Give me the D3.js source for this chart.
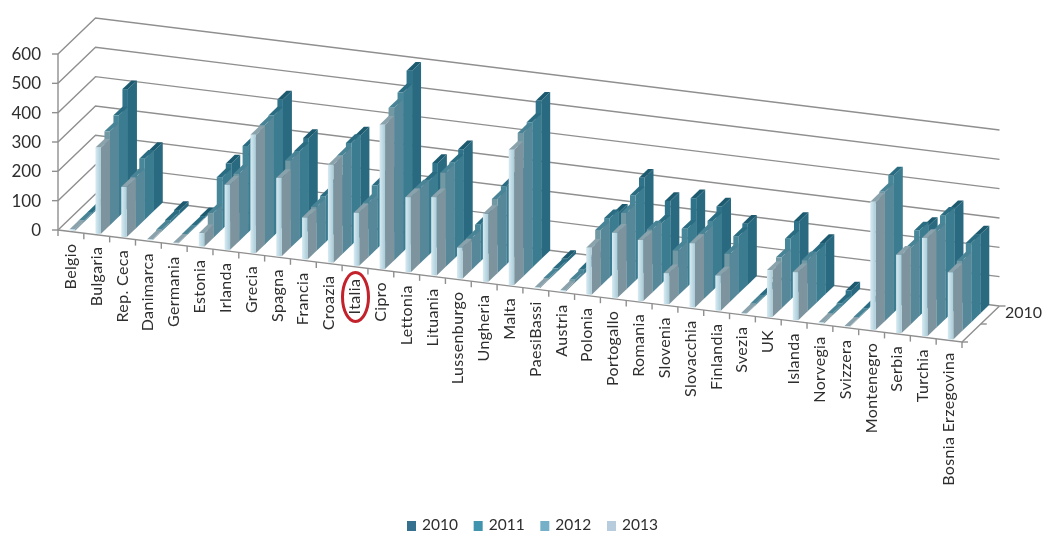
<!DOCTYPE html>
<html><head><meta charset="utf-8">
<script src="https://cdn.jsdelivr.net/npm/d3@7/dist/d3.min.js"></script>
<style>html,body{margin:0;background:#fff}svg{display:block}text{font-family:Lato,sans-serif;fill:#2e2e2e}</style>
</head><body><svg id="c" width="1043" height="533"></svg>
<script>
const categories=["Belgio","Bulgaria","Rep. Ceca","Danimarca","Germania","Estonia","Irlanda","Grecia","Spagna","Francia","Croazia","Italia","Cipro","Lettonia","Lituania","Lussenburgo","Ungheria","Malta","PaesiBassi","Austria","Polonia","Portogallo","Romania","Slovenia","Slovacchia","Finlandia","Svezia","UK","Islanda","Norvegia","Svizzera","Montenegro","Serbia","Turchia","Bosnia Erzegovina"];
const series2013=[5,294,171,3,2,46,222,403,267,143,334,181,492,256,267,106,232,461,3,5,160,222,208,106,219,120,3,160,164,4,2,437,267,335,229];
const series2012=[5,320,175,6,3,85,230,407,297,150,335,185,520,256,321,108,253,489,5,10,191,260,215,154,222,164,5,174,175,6,3,441,260,325,239];
const series2011=[5,345,208,10,3,178,295,410,300,157,349,215,543,253,325,125,267,496,8,15,202,291,205,198,236,195,5,208,172,10,3,468,291,352,270];
const series2010=[8,405,205,15,5,195,280,435,315,170,345,220,588,284,342,130,270,540,12,18,191,321,253,273,256,208,5,239,175,24,3,0,277,345,270];
const years=["2010","2011","2012","2013"];
const valueTicks=[0,100,200,300,400,500,600];
const depthLabel="2010";
const legendColors=["#34708e","#3f94ad","#74b0c8","#b7cddd"];
const sideColors=["#2a6a80","#3a7c90","#56889a","#7d949e"];
const topColors=["#1f5a70","#2b6c82","#4a8496","#8aa2ac"];
const frontColors=["#2f7389","#478799","#7298a4","url(#frontGrad)"];

const svg=d3.select("#c");
const defs=svg.append("defs");
const grad=defs.append("linearGradient").attr("id","frontGrad");
grad.append("stop").attr("offset","0").attr("stop-color","#d8ebf2");
grad.append("stop").attr("offset","1").attr("stop-color","#a9cbd8");
defs.append("filter").attr("id","soft").attr("x","-2%").attr("y","-2%").attr("width","104%").attr("height","104%")
  .append("feGaussianBlur").attr("stdDeviation",0.55);
const root=svg.append("g").attr("filter","url(#soft)");

const ox=58, oy=230, floorW=904, floorDrop=112, depthDx=37.5, depthDy=36;
const xBand=d3.scaleBand().domain(categories).range([0,floorW]);
const yVal=d3.scaleLinear().domain([0,600]).range([0,176]);
const zScale=d3.scaleLinear().domain([0,4]).range([0.02,0.98]);
function P(xo,v,z){return [ox+xo+z*depthDx, oy+xo*floorDrop/floorW-yVal(v)-z*depthDy];}
const pts=a=>a.map(p=>p.join(",")).join(" ");

const grid=root.append("g").attr("fill","none").attr("stroke","#8f8f8f").attr("stroke-width",1.4);
valueTicks.forEach(v=>{
  grid.append("polyline").attr("points",pts([P(0,v,0),P(0,v,1),P(floorW,v,1)]));
  grid.append("line").attr("x1",ox-6).attr("x2",ox).attr("y1",P(0,v,0)[1]).attr("y2",P(0,v,0)[1]);
});
grid.append("line").attr("x1",ox).attr("x2",ox).attr("y1",P(0,600,0)[1]).attr("y2",P(0,0,0)[1]);
grid.append("polyline").attr("points",pts([P(0,0,0),P(floorW,0,0),P(floorW,0,1)]));
categories.forEach((c,i)=>{
  const p=P(xBand.step()*i,0,0);
  grid.append("line").attr("x1",p[0]).attr("x2",p[0]).attr("y1",p[1]).attr("y2",p[1]+6);
});
{const p=P(floorW,0,0);grid.append("line").attr("x1",p[0]).attr("x2",p[0]).attr("y1",p[1]).attr("y2",p[1]+6);
 [0,.5,1].forEach(z=>{const q=P(floorW,0,z);grid.append("line").attr("x1",q[0]).attr("x2",q[0]+6).attr("y1",q[1]).attr("y2",q[1]);});}

const bars=root.append("g");
const allSeries=[series2010,series2011,series2012,series2013];
const fw=5.5;
allSeries.forEach((vals,k)=>{
  const s=3-k; const z0=zScale(s), z1=zScale(s+1);
  categories.forEach((c,i)=>{
    const v=vals[i];
    if(v<=0) return;
    const xa=xBand(c)+xBand.bandwidth()/2-fw/2+.7;
    const A=P(xa,v,z0), B=[A[0]+fw,A[1]];
    const base=P(xa,0,z0)[1];
    const dx=(z1-z0)*depthDx, dy=(z1-z0)*depthDy;
    bars.append("polygon").attr("points",pts([B,[B[0]+dx,B[1]-dy],[B[0]+dx,base-dy],[B[0],base]])).attr("fill",sideColors[k]);
    bars.append("polygon").attr("points",pts([A,[A[0]+dx,A[1]-dy],[B[0]+dx,B[1]-dy],B])).attr("fill",topColors[k]);
    bars.append("rect").attr("x",A[0]).attr("y",A[1]).attr("width",fw).attr("height",Math.max(0,base-A[1])).attr("fill",frontColors[k]);
  });
});

valueTicks.forEach(v=>{
  root.append("text").attr("x",41).attr("y",P(0,v,0)[1]+6).attr("text-anchor","end").attr("font-size",17).text(v);
});
categories.forEach((c,i)=>{
  const p=P(xBand(c)+xBand.bandwidth()/2,0,0);
  root.append("text").attr("transform",`translate(${p[0]+5},${p[1]+12}) rotate(-90)`).attr("text-anchor","end").attr("font-size",16).attr("letter-spacing",0.35).text(c);
});
{const q=P(floorW,0,1);root.append("text").attr("x",1005).attr("y",q[1]+12).attr("font-size",16).text(depthLabel);}

root.append("ellipse").attr("cx",355.5).attr("cy",297).attr("rx",13).attr("ry",24.5).attr("fill","none").attr("stroke","#c4202c").attr("stroke-width",3);

const legX=d3.scalePoint().domain(years).range([407,607]);
years.forEach((y,i)=>{
  root.append("rect").attr("x",legX(y)).attr("y",521).attr("width",9).attr("height",10).attr("fill",legendColors[i]);
  root.append("text").attr("x",legX(y)+15).attr("y",530).attr("font-size",15.5).text(y);
});
</script></body></html>
